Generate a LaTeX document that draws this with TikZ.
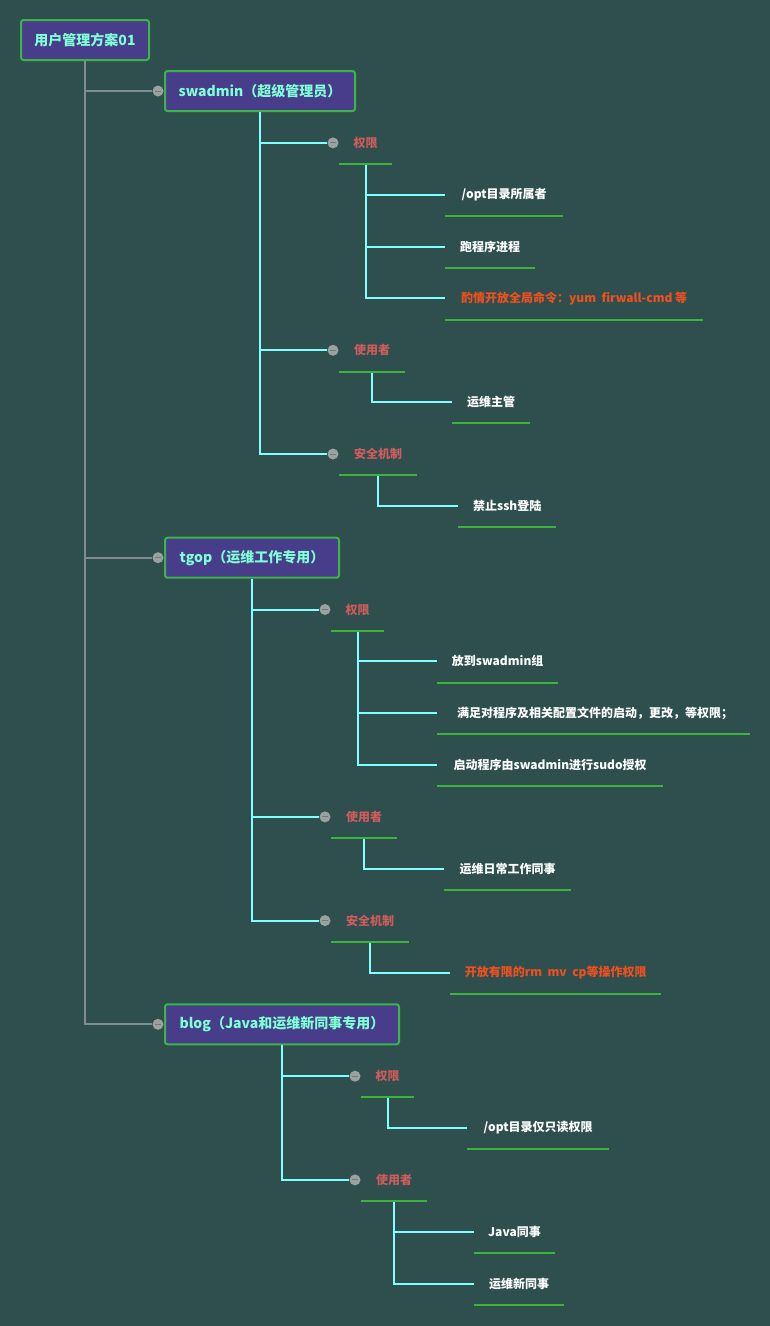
\documentclass[tikz,border=0pt]{standalone}
\usepackage{fontspec}
\setmainfont{Noto Sans CJK SC}
\usepackage{tikz}

\definecolor{bgslate}{RGB}{47,79,79}
\definecolor{boxfill}{RGB}{72,61,139}
\definecolor{boxline}{RGB}{60,180,70}
\definecolor{mint}{RGB}{127,255,212}
\definecolor{branchcyan}{RGB}{127,255,255}
\definecolor{rootgray}{RGB}{128,140,148}
\definecolor{knobgray}{RGB}{155,160,160}
\definecolor{knobdash}{RGB}{115,122,122}
\definecolor{tagred}{RGB}{205,92,92}
\definecolor{warnorange}{RGB}{240,80,30}
\definecolor{ulgreen}{RGB}{60,180,60}

\tikzset{
    topic/.style={draw=boxline, fill=boxfill, line width=2pt, rounded corners=2.5pt,
        text=mint, font=\bfseries\fontsize{14}{14}\selectfont,
        minimum height=40pt, inner xsep=13pt, inner ysep=0pt, anchor=west},
    knob/.style={circle, fill=knobgray, minimum size=11pt, inner sep=0pt,
        path picture={\draw[knobdash, line width=1pt]
            ([xshift=-3pt]path picture bounding box.center) --
            ([xshift=3pt]path picture bounding box.center);}},
    tag/.style={text=tagred, font=\bfseries\fontsize{12}{12}\selectfont,
        minimum height=42pt, inner xsep=14pt, inner ysep=0pt, anchor=west},
    leaf/.style={text=white, font=\bfseries\fontsize{12}{12}\selectfont,
        minimum height=42pt, inner xsep=14pt, inner ysep=0pt, anchor=west},
    warn/.style={leaf, text=warnorange},
    rootline/.style={draw=rootgray, line width=2pt},
    twig/.style={draw=branchcyan, line width=2pt},
    uline/.style={draw=ulgreen, line width=2pt}
}

\begin{document}
\begin{tikzpicture}[x=1pt,y=-1pt]
    \fill[bgslate] (0,0) rectangle (770,1326);
    \useasboundingbox (0,0) rectangle (770,1326);

    % topics
    \node[topic, minimum width=128pt] (root) at (20,40) {用户管理方案01};
    \node[topic, minimum width=190pt] (swadmin) at (164,91) {swadmin（超级管理员）};
    \node[topic, minimum width=174pt] (tgop) at (164,557.7) {tgop（运维工作专用）};
    \node[topic, minimum width=234pt] (blog) at (164,1024.3) {blog（Java和运维新同事专用）};
    \node[knob] (kswadmin) at (158,91) {};
    \node[knob] (ktgop) at (158,557.7) {};
    \node[knob] (kblog) at (158,1024.3) {};

    % swadmin
    \node[tag, minimum width=53pt] (swperm) at (339,142.9) {权限};
    \node[tag, minimum width=66pt] (swuser) at (339,350.3) {使用者};
    \node[tag, minimum width=78pt] (swsafe) at (339,454) {安全机制};
    \node[knob] (kswperm) at (333,142.9) {};
    \node[knob] (kswuser) at (333,350.3) {};
    \node[knob] (kswsafe) at (333,454) {};

    \node[leaf, minimum width=118pt] (swopt) at (445,194.7) {/opt目录所属者};
    \node[leaf, minimum width=90pt] (swrun) at (445,246.6) {跑程序进程};
    \node[warn, minimum width=258pt] (swcmd) at (445,298.4) {酌情开放全局命令：yum\ \ firwall-cmd 等};
    \node[leaf, minimum width=78pt] (swmgr) at (452,402.1) {运维主管};
    \node[leaf, minimum width=98pt] (swssh) at (458,505.8) {禁止ssh登陆};

    % tgop
    \node[tag, minimum width=53pt] (tgperm) at (331,609.5) {权限};
    \node[tag, minimum width=66pt] (tguser) at (331,816.9) {使用者};
    \node[tag, minimum width=78pt] (tgsafe) at (331,920.6) {安全机制};
    \node[knob] (ktgperm) at (325,609.5) {};
    \node[knob] (ktguser) at (325,816.9) {};
    \node[knob] (ktgsafe) at (325,920.6) {};

    \node[leaf, minimum width=121pt] (tggroup) at (437,661.4) {放到swadmin组};
    \node[leaf, minimum width=313pt] (tgconf) at (437,713.2) {\ 满足对程序及相关配置文件的启动，更改，等权限；};
    \node[leaf, minimum width=226pt] (tgsudo) at (437,765.1) {启动程序由swadmin进行sudo授权};
    \node[leaf, minimum width=127pt] (tgdaily) at (444,868.8) {运维日常工作同事};
    \node[warn, minimum width=211pt] (tgrm) at (450,972.5) {开放有限的rm\ \ mv\ \ cp等操作权限};

    % blog
    \node[tag, minimum width=53pt] (blperm) at (361,1076.2) {权限};
    \node[tag, minimum width=66pt] (bluser) at (361,1179.9) {使用者};
    \node[knob] (kblperm) at (355,1076.2) {};
    \node[knob] (kbluser) at (355,1179.9) {};

    \node[leaf, minimum width=142pt] (blopt) at (467,1128) {/opt目录仅只读权限};
    \node[leaf, minimum width=80pt] (bljava) at (474,1231.7) {Java同事};
    \node[leaf, minimum width=90pt] (blnew) at (474,1283.6) {运维新同事};

    % branches
    \foreach \t in {swadmin,tgop,blog}
        \draw[rootline] (root.south) |- (k\t.west);
    \foreach \t in {swperm,swuser,swsafe}
        \draw[twig] (swadmin.south) |- (k\t.west);
    \foreach \t in {tgperm,tguser,tgsafe}
        \draw[twig] (tgop.south) |- (k\t.west);
    \foreach \t in {blperm,bluser}
        \draw[twig] (blog.south) |- (k\t.west);

    \foreach \l in {swopt,swrun,swcmd}
        \draw[twig] (swperm.south) |- (\l.west);
    \draw[twig] (swuser.south) |- (swmgr.west);
    \draw[twig] (swsafe.south) |- (swssh.west);
    \foreach \l in {tggroup,tgconf,tgsudo}
        \draw[twig] (tgperm.south) |- (\l.west);
    \draw[twig] (tguser.south) |- (tgdaily.west);
    \draw[twig] (tgsafe.south) |- (tgrm.west);
    \draw[twig] (blperm.south) |- (blopt.west);
    \foreach \l in {bljava,blnew}
        \draw[twig] (bluser.south) |- (\l.west);

    % underlines
    \foreach \n in {swperm,swuser,swsafe,swopt,swrun,swcmd,swmgr,swssh,
                    tgperm,tguser,tgsafe,tggroup,tgconf,tgsudo,tgdaily,tgrm,
                    blperm,bluser,blopt,bljava,blnew}
        \draw[uline] (\n.south west) -- (\n.south east);
\end{tikzpicture}
\end{document}
